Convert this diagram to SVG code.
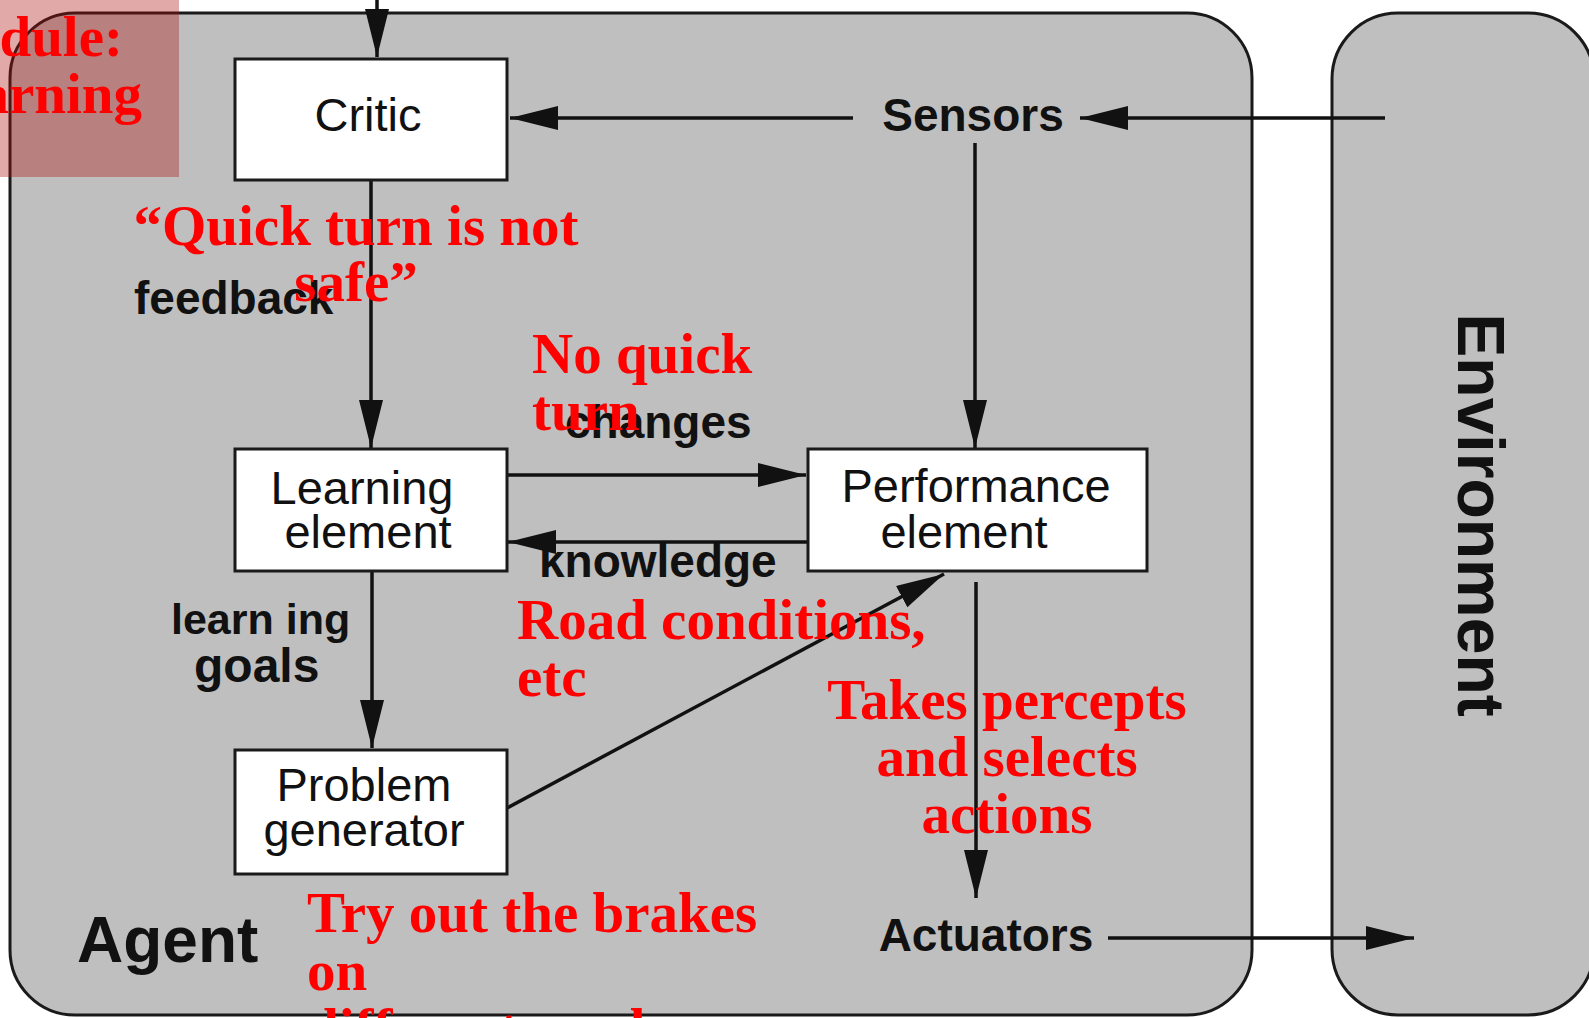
<svg xmlns="http://www.w3.org/2000/svg" width="1589" height="1018" viewBox="0 0 1589 1018">
  <defs>
    <style>
      .frame { fill: #bfbfbf; stroke: #1a1a1a; stroke-width: 3; }
      .box { fill: #ffffff; stroke: #1a1a1a; stroke-width: 3; }
      .node-text { font-family: "Liberation Sans", Arial, sans-serif; font-size: 47px; fill: #111111; }
      .label { font-family: "Liberation Sans", Arial, sans-serif; font-weight: bold; font-size: 46px; fill: #111111; }
      .big { font-family: "Liberation Sans", Arial, sans-serif; font-weight: bold; font-size: 64px; fill: #111111; }
      .note { font-family: "Liberation Serif", "Times New Roman", serif; font-weight: bold; font-size: 57px; fill: #ff0000; }
      .link { fill: none; stroke: #111111; stroke-width: 3.5; }
    </style>
    <marker id="arrow" markerUnits="userSpaceOnUse" markerWidth="50" markerHeight="26" refX="48" refY="12" orient="auto">
      <path d="M0,0 L48,12 L0,24 z" fill="#111111"/>
    </marker>
  </defs>

  <rect width="1589" height="1018" fill="#ffffff"/>

  <!-- agent and environment frames -->
  <g id="agent">
    <rect class="frame" x="10" y="13" width="1242" height="1002" rx="65" ry="65"/>
    <text class="big" x="77" y="962">Agent</text>
  </g>
  <g id="environment">
    <rect class="frame" x="1332" y="13" width="262" height="1002" rx="66" ry="66"/>
    <text class="big" x="0" y="0" style="font-size:66px" text-anchor="middle" transform="translate(1458,515) rotate(90)">Environment</text>
  </g>

  <!-- connectors -->
  <g id="connectors">
    <line class="link" x1="377" y1="-5" x2="377" y2="57" marker-end="url(#arrow)"/>
    <line class="link" x1="853" y1="118" x2="510" y2="118" marker-end="url(#arrow)"/>
    <line class="link" x1="1385" y1="118" x2="1080" y2="118" marker-end="url(#arrow)"/>
    <line class="link" x1="975" y1="143" x2="975" y2="448" marker-end="url(#arrow)"/>
    <line class="link" x1="371" y1="180" x2="371" y2="448" marker-end="url(#arrow)"/>
    <line class="link" x1="507" y1="475" x2="806" y2="475" marker-end="url(#arrow)"/>
    <line class="link" x1="808" y1="542" x2="508" y2="542" marker-end="url(#arrow)"/>
    <line class="link" x1="372" y1="571" x2="372" y2="748" marker-end="url(#arrow)"/>
    <line class="link" x1="507" y1="808" x2="944" y2="574" marker-end="url(#arrow)"/>
    <line class="link" x1="976" y1="582" x2="976" y2="898" marker-end="url(#arrow)"/>
    <line class="link" x1="1108" y1="938" x2="1414" y2="938" marker-end="url(#arrow)"/>
  </g>

  <!-- component boxes -->
  <g id="critic">
    <rect class="box" x="235" y="59" width="272" height="121"/>
    <text class="node-text" x="368" y="131" text-anchor="middle">Critic</text>
  </g>
  <g id="learning-element">
    <rect class="box" x="235" y="449" width="272" height="122"/>
    <text class="node-text" x="362" y="504" text-anchor="middle">Learning</text>
    <text class="node-text" x="368" y="548" text-anchor="middle">element</text>
  </g>
  <g id="performance-element">
    <rect class="box" x="808" y="449" width="339" height="122"/>
    <text class="node-text" x="976" y="502" text-anchor="middle">Performance</text>
    <text class="node-text" x="964" y="548" text-anchor="middle">element</text>
  </g>
  <g id="problem-generator">
    <rect class="box" x="235" y="750" width="272" height="124"/>
    <text class="node-text" x="364" y="801" text-anchor="middle">Problem</text>
    <text class="node-text" x="364" y="846" text-anchor="middle">generator</text>
  </g>

  <!-- sensor / actuator and flow labels -->
  <g id="labels">
    <text class="label" x="973" y="131" text-anchor="middle">Sensors</text>
    <text class="label" x="986" y="951" text-anchor="middle">Actuators</text>
    <text class="label" x="134" y="314">feedback</text>
    <text class="label" x="565" y="438">changes</text>
    <text class="label" x="539" y="577">knowledge</text>
    <text class="label" x="171" y="634" style="font-size:43px">learn ing</text>
    <text class="label" x="194" y="682" style="font-size:48px">goals</text>
  </g>

  <!-- red annotations -->
  <g id="annotations">
    <rect x="0" y="0" width="179" height="177" fill="rgb(176,16,16)" fill-opacity="0.36"/>
    <text class="note" x="123" y="56" text-anchor="end">Module:</text>
    <text class="note" x="142" y="113" text-anchor="end">Learning</text>

    <text class="note" x="356" y="245" text-anchor="middle">“Quick turn is not</text>
    <text class="note" x="356" y="301" text-anchor="middle">safe”</text>

    <text class="note" x="532" y="373">No quick</text>
    <text class="note" x="532" y="430">turn</text>

    <text class="note" x="517" y="639">Road conditions,</text>
    <text class="note" x="517" y="696">etc</text>

    <text class="note" x="1007" y="719" text-anchor="middle">Takes percepts</text>
    <text class="note" x="1007" y="776" text-anchor="middle">and selects</text>
    <text class="note" x="1007" y="833" text-anchor="middle">actions</text>

    <text class="note" x="307" y="932">Try out the brakes</text>
    <text class="note" x="307" y="990">on</text>
    <text class="note" x="307" y="1048">different roads</text>
  </g>
</svg>
